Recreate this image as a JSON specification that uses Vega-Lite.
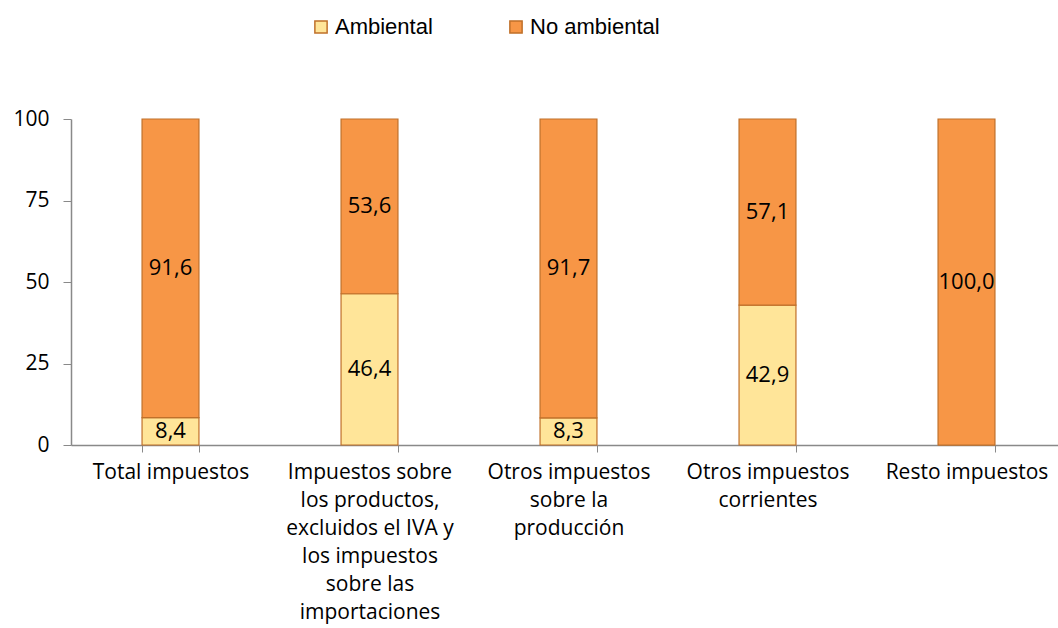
{
  "$schema": "https://vega.github.io/schema/vega-lite/v6.json",
  "width": 987,
  "height": 326,
  "autosize": {"type": "none"},
  "padding": {"left": 71, "top": 119, "right": 0, "bottom": 183},
  "background": "white",
  "config": {
    "view": {"stroke": null},
    "locale": {"number": {"decimal": ",", "thousands": ".", "grouping": [3], "currency": ["", " €"]}},
    "font": "Open Sans"
  },
  "data": {
    "values": [
      {"categoria": "Total impuestos", "tipo": "Ambiental", "valor": 8.4},
      {"categoria": "Total impuestos", "tipo": "No ambiental", "valor": 91.6},
      {"categoria": "Impuestos sobre los productos, excluidos el IVA y los impuestos sobre las importaciones", "tipo": "Ambiental", "valor": 46.4},
      {"categoria": "Impuestos sobre los productos, excluidos el IVA y los impuestos sobre las importaciones", "tipo": "No ambiental", "valor": 53.6},
      {"categoria": "Otros impuestos sobre la producción", "tipo": "Ambiental", "valor": 8.3},
      {"categoria": "Otros impuestos sobre la producción", "tipo": "No ambiental", "valor": 91.7},
      {"categoria": "Otros impuestos corrientes", "tipo": "Ambiental", "valor": 42.9},
      {"categoria": "Otros impuestos corrientes", "tipo": "No ambiental", "valor": 57.1},
      {"categoria": "Resto impuestos", "tipo": "Ambiental", "valor": 0},
      {"categoria": "Resto impuestos", "tipo": "No ambiental", "valor": 100}
    ]
  },
  "encoding": {
    "x": {
      "field": "categoria",
      "type": "nominal",
      "sort": null,
      "scale": {"range": [0, 995], "paddingInner": 0.714, "paddingOuter": 0.357},
      "axis": {
        "title": null,
        "labelAngle": 0,
        "labelFontSize": 21,
        "labelColor": "#000000",
        "labelFont": "Open Sans",
        "labelLimit": 300,
        "labelPadding": 9,
        "labelLineHeight": 28,
        "tickBand": "extent",
        "tickSize": 7,
        "tickColor": "#898989",
        "domainColor": "#898989",
        "domainWidth": 1.5,
        "labelExpr": "datum.value == 'Impuestos sobre los productos, excluidos el IVA y los impuestos sobre las importaciones' ? ['Impuestos sobre', 'los productos,', 'excluidos el IVA y', 'los impuestos', 'sobre las', 'importaciones'] : datum.value == 'Otros impuestos sobre la producción' ? ['Otros impuestos', 'sobre la', 'producción'] : datum.value == 'Otros impuestos corrientes' ? ['Otros impuestos', 'corrientes'] : datum.value"
      }
    },
    "y": {
      "field": "valor",
      "type": "quantitative",
      "stack": "zero",
      "scale": {"domain": [0, 100]},
      "axis": {
        "title": null,
        "values": [0, 25, 50, 75, 100],
        "grid": false,
        "labelFontSize": 21,
        "labelColor": "#000000",
        "labelFont": "Open Sans",
        "labelPadding": 14,
        "tickSize": 8,
        "tickColor": "#898989",
        "domainColor": "#898989",
        "domainWidth": 1.5
      }
    }
  },
  "layer": [
    {
      "mark": {"type": "bar", "stroke": "#C0702A", "strokeWidth": 1.2},
      "encoding": {
        "color": {
          "field": "tipo",
          "type": "nominal",
          "scale": {"domain": ["Ambiental", "No ambiental"], "range": ["#FFE599", "#F79646"]},
          "legend": {
            "title": null,
            "orient": "none",
            "direction": "horizontal",
            "legendX": 239,
            "legendY": -103,
            "symbolType": "square",
            "symbolSize": 150,
            "symbolStrokeColor": "#C0702A",
            "symbolStrokeWidth": 1.5,
            "labelFont": "Liberation Sans",
            "labelFontSize": 22,
            "labelColor": "#000000",
            "labelOffset": 3,
            "columnPadding": 72
          }
        },
        "order": {"field": "tipo", "sort": "ascending"}
      }
    },
    {
      "transform": [{"filter": "datum.valor > 0"}],
      "mark": {"type": "text", "fontSize": 22, "font": "Open Sans", "color": "#000000"},
      "encoding": {
        "y": {"field": "valor", "type": "quantitative", "stack": "zero", "bandPosition": 0.5},
        "text": {"field": "valor", "type": "quantitative", "format": ".1f"},
        "order": {"field": "tipo", "sort": "ascending"}
      }
    }
  ]
}
